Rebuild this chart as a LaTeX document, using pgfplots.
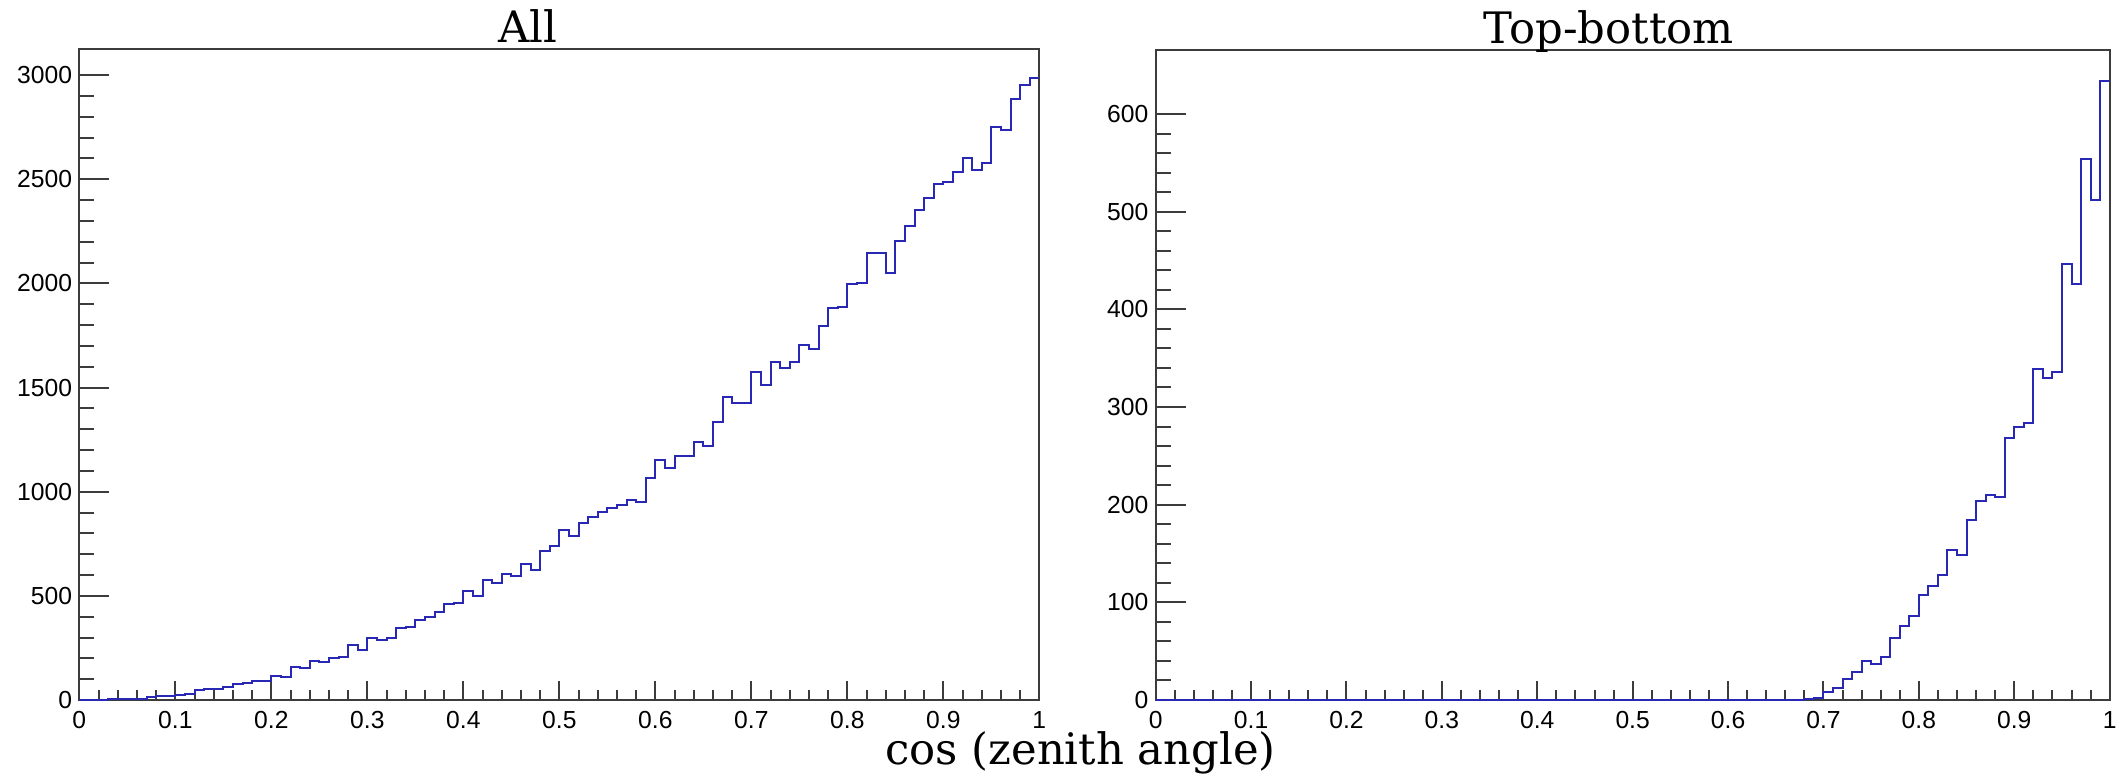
\documentclass[border=0pt]{standalone}
\usepackage{fontspec}
\setmainfont{Liberation Sans}
\newfontfamily\slab{DejaVu Serif}
\usepackage{pgfplots}
\pgfplotsset{compat=1.18}
\usepackage{pgfplotstable}
\definecolor{histblue}{RGB}{40,40,180}
\definecolor{framegray}{RGB}{60,60,60}

\pgfplotstableread{
x y
0.00 0
0.01 0
0.02 1
0.03 3
0.04 5
0.05 5
0.06 5
0.07 14
0.08 19
0.09 21
0.10 26
0.11 30
0.12 50
0.13 53
0.14 54
0.15 62
0.16 75
0.17 83
0.18 90
0.19 93
0.20 117
0.21 112
0.22 160
0.23 154
0.24 186
0.25 181
0.26 203
0.27 208
0.28 264
0.29 240
0.30 296
0.31 288
0.32 296
0.33 347
0.34 352
0.35 384
0.36 398
0.37 421
0.38 459
0.39 466
0.40 523
0.41 497
0.42 576
0.43 563
0.44 606
0.45 594
0.46 651
0.47 624
0.48 714
0.49 741
0.50 816
0.51 786
0.52 851
0.53 880
0.54 902
0.55 923
0.56 934
0.57 958
0.58 952
0.59 1064
0.60 1150
0.61 1115
0.62 1173
0.63 1173
0.64 1238
0.65 1220
0.66 1334
0.67 1455
0.68 1424
0.69 1424
0.70 1573
0.71 1512
0.72 1621
0.73 1595
0.74 1622
0.75 1706
0.76 1685
0.77 1795
0.78 1880
0.79 1885
0.80 1995
0.81 2002
0.82 2147
0.83 2147
0.84 2051
0.85 2203
0.86 2275
0.87 2352
0.88 2408
0.89 2475
0.90 2488
0.91 2536
0.92 2600
0.93 2544
0.94 2576
0.95 2752
0.96 2736
0.97 2885
0.98 2951
0.99 2984
1.00 2984
}\alldata

\pgfplotstableread{
x y
0.00 0
0.68 1
0.69 2
0.70 8
0.71 12
0.72 21
0.73 29
0.74 40
0.75 37
0.76 44
0.77 63
0.78 76
0.79 86
0.80 107
0.81 117
0.82 128
0.83 154
0.84 148
0.85 184
0.86 204
0.87 210
0.88 208
0.89 268
0.90 279
0.91 284
0.92 339
0.93 330
0.94 336
0.95 446
0.96 426
0.97 554
0.98 512
0.99 634
1.00 634
}\tbdata

\pgfplotsset{
  rootstyle/.style={
    scale only axis,
    xmin=0, xmax=1, ymin=0,
    axis line style={framegray, line width=0.6pt},
    tick align=inside,
    xtick pos=lower, ytick pos=left,
    xtick={0,0.1,0.2,0.3,0.4,0.5,0.6,0.7,0.8,0.9,1},
    xticklabels={0,0.1,0.2,0.3,0.4,0.5,0.6,0.7,0.8,0.9,1},
    minor x tick num=4,
    minor y tick num=4,
    tick style={framegray, line width=0.6pt},
    xtick style={/pgfplots/major tick length=5.7pt, /pgfplots/minor tick length=3pt},
    ytick style={/pgfplots/major tick length=9pt, /pgfplots/minor tick length=4.5pt},
    scaled y ticks=false,
    /pgf/number format/assume math mode=true,
    /pgf/number format/1000 sep={},
    tick label style={font=\fontsize{7.4}{9}\selectfont, inner sep=0pt},
    xticklabel style={anchor=north, yshift=-3.3pt},
    yticklabel style={anchor=east, xshift=-2pt},
    every axis title shift=0pt,
    title style={font=\slab\fontsize{13}{15}\selectfont, anchor=base, yshift=2.1pt},
  }
}

\begin{document}
\begin{tikzpicture}
\path[use as bounding box] (0,0) rectangle (635.4pt,233.4pt);
\begin{axis}[rootstyle,
  at={(23.8pt,23.4pt)}, anchor=south west,
  width=288pt, height=195.3pt,
  ymax=3125,
  ytick={0,500,1000,1500,2000,2500,3000},
  title={All},
  title style={at={(axis description cs:0.467,1)}},
  xlabel={cos (zenith angle)},
  xlabel style={font=\slab\fontsize{13}{15}\selectfont, at={(axis description cs:1.043,0)}, anchor=base, yshift=-19.3pt},
]
\addplot[const plot mark left, histblue, line width=0.6pt] table[x=x,y=y] {\alldata};
\end{axis}
\begin{axis}[rootstyle,
  at={(346.7pt,23.4pt)}, anchor=south west,
  width=286.2pt, height=194.85pt,
  ymax=665,
  ytick={0,100,200,300,400,500,600},
  title={Top-bottom},
  title style={at={(axis description cs:0.475,1)}},
]
\addplot[const plot mark left, histblue, line width=0.6pt] table[x=x,y=y] {\tbdata};
\end{axis}
\end{tikzpicture}
\end{document}
